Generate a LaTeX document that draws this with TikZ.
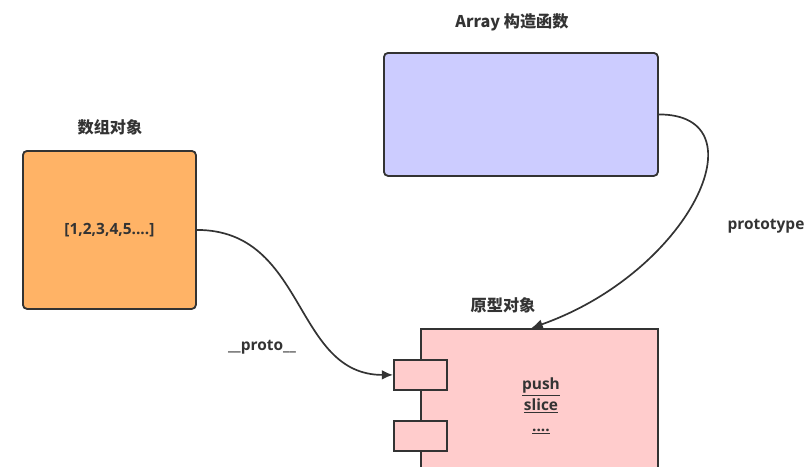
\documentclass[tikz,border=0pt]{standalone}
\usepackage{fontspec}
\setmainfont{Open Sans}
\newfontfamily\cjk{Noto Sans CJK SC}
\usetikzlibrary{arrows.meta}
\definecolor{objorange}{HTML}{FFB366}
\definecolor{ctorblue}{HTML}{CCCCFF}
\definecolor{protopink}{HTML}{FFCCCC}
\definecolor{edge}{HTML}{333333}
\begin{document}
\begin{tikzpicture}[x=0.025cm, y=-0.025cm,
	font=\bfseries\fontsize{11}{15}\selectfont, text=edge,
	box/.style={draw=edge, line width=1.3pt, anchor=north west, inner sep=0pt},
	title/.style={font=\cjk\bfseries\fontsize{11.5}{12}\selectfont},
	link/.style={draw=edge, line width=1.2pt, -{Latex[length=8pt, width=7pt]}}]
		\useasboundingbox (0,0) rectangle (811,467);

		\node[title] (ctorTitle) at (512,22) {Array 构造函数};
		\node[title] (arrTitle) at (110,127) {数组对象};
		\node[title] (protoTitle) at (503,305) {原型对象};

		\node[box, rounded corners=3pt, fill=ctorblue, minimum width=6.85cm, minimum height=3.075cm] (ctor) at (383,52) {};
		\node[box, rounded corners=3pt, fill=objorange, minimum width=4.325cm, minimum height=3.95cm] (arr) at (22,150) {[1,2,3,4,5....]};
		\node[box, fill=protopink, minimum width=5.925cm, minimum height=4.5cm] (proto) at (420,328) {};
		\node[box, fill=protopink, minimum width=1.325cm, minimum height=0.75cm] (portA) at (393,359) {};
		\node[box, fill=protopink, minimum width=1.325cm, minimum height=0.75cm] (portB) at (393,420) {};
		\node[align=center] (methods) at (541,406) {\underline{push}\\\underline{slice}\\\underline{....}};

		\draw[link] (arr.east) .. controls +(110,0) and +(-100,0) .. (portA.west);
		\draw[link] (ctor.east) .. controls +(105,0) and (690,272) .. ([xshift=-0.2cm]proto.north);
		\node (protoLabel) at (262,347) {\_\_proto\_\_};
		\node (protoLink) at (766,226) {prototype};
	\end{tikzpicture}
\end{document}
